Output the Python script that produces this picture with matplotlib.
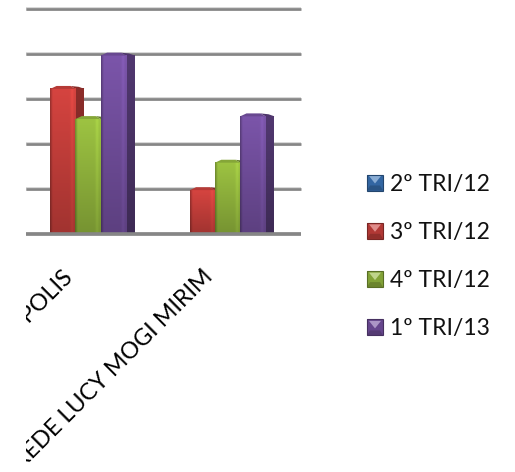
"""Quarterly bars per unit, with bevelled 3D style"""

import matplotlib
matplotlib.use('Agg')
import matplotlib.pyplot as plt
import numpy as np
from matplotlib.colors import to_rgb
from matplotlib.patches import Polygon, Rectangle
from matplotlib.transforms import Bbox

plt.rcParams['font.family'] = ['Lato', 'DejaVu Sans']

categories = ['OPOLIS', 'REDE LUCY MOGI MIRIM']
series = ['2º TRI/12', '3º TRI/12', '4º TRI/12', '1º TRI/13']
tri2_12 = [0, 0]
tri3_12 = [3.29, 1.04]
tri4_12 = [2.62, 1.65]
tri1_13 = [4.03, 2.68]
values = [tri2_12, tri3_12, tri4_12, tri1_13]
colors = ['#3a74b8', '#c9403c', '#94b83e', '#7450a0']
y_ticks = [0, 1, 2, 3, 4, 5]

W, H = 515, 472
fig = plt.figure(figsize=(W / 100, H / 100), dpi=100, facecolor='white')


def px_axes(x0, y0, x1, y1):
    return fig.add_axes([x0 / W, 1 - y1 / H, (x1 - x0) / W, (y1 - y0) / H])


def shade(color, factor):
    rgb = np.array(to_rgb(color))
    if factor <= 1:
        return tuple(rgb * factor)
    return tuple(rgb + (1 - rgb) * (factor - 1))


def front_image(color, nx=50, ny=60):
    # darker toward the base, dark left rim and a thin highlight near the right edge
    v = np.linspace(1.06, 0.80, ny)[:, None]
    u = np.linspace(0, 1, nx)[None, :]
    h = 0.72 + 0.28 * np.clip(u / 0.10, 0, 1)
    h = h + 0.09 * np.exp(-((u - 0.86) / 0.06) ** 2)
    base = np.array(to_rgb(color))[None, None, :]
    img = base * (v * h)[:, :, None]
    return np.clip(img, 0, 1)


def draw_bar(ax, x, value, width, side, cap, color, z):
    if value <= 0:
        return
    top = value - cap
    # side face first so the next series' front covers it
    side_img = np.clip(front_image(color)[:, 25:26, :] * 0.66, 0, 1)
    ax.imshow(side_img, extent=[x + width, x + width + side, 0, top],
              aspect='auto', origin='upper', zorder=z, interpolation='bilinear')
    ax.add_patch(Polygon([(x + width * 0.8, value), (x + width + side * 0.35, value - cap * 0.3),
                          (x + width + side, top), (x + width, top)],
                         closed=True, fc=shade(color, 0.68), ec='none', zorder=z))
    ax.imshow(front_image(color), extent=[x, x + width, 0, top], aspect='auto',
              origin='upper', zorder=z + 0.01, interpolation='bilinear')
    # rounded top edge of the column
    ax.add_patch(Polygon([(x, top), (x + width * 0.25, value),
                          (x + width * 0.8, value), (x + width, top)],
                         closed=True, fc=shade(color, 0.9), ec='none', zorder=z + 0.01))


# one category step is 139.5 px, the first group is centred 49.5 px from the left
ax = px_axes(26, 9, 301, 234)
ax.set_xlim(-49.5 / 139.5, 225.5 / 139.5)
ax.set_ylim(0, 5)
ax.axis('off')

for t in y_ticks:
    ax.axhline(t, color='#d0d0d0', lw=2.6, zorder=1, clip_on=False, solid_capstyle='butt')
    ax.axhline(t, color='#868686', lw=2.6 if t == 0 else 1.9, zorder=6 if t == 0 else 2,
               clip_on=False, solid_capstyle='butt')

bar_w = 25.2 / 139.5
side_w = 9 / 139.5
cap_h = 0.065
for s, vals in enumerate(values):
    for c, v in enumerate(vals):
        draw_bar(ax, c + (s - 2) * bar_w, v, bar_w, side_w, cap_h, colors[s], 3 + s * 0.1)
ax.set_xlim(-49.5 / 139.5, 225.5 / 139.5)
ax.set_ylim(0, 5)

# category labels, cut off at the plot's left edge and the bottom of the figure
label_clip = Bbox.from_extents(26, 0, W, H)
label_pos = [(62, 265), (202, 266)]
for name, (px, py) in zip(categories, label_pos):
    txt = fig.text(px / W, 1 - py / H, name, rotation=45, rotation_mode='anchor',
                   ha='right', va='top', fontsize=16.8, color='black')
    txt.set_clip_box(label_clip)
    txt.set_clip_on(True)

# legend with bevelled square keys
lax = px_axes(0, 0, W, H)
lax.set_xlim(0, W)
lax.set_ylim(H, 0)
lax.axis('off')
lax.patch.set_alpha(0)
for i, (name, color) in enumerate(zip(series, colors)):
    yc = 182.5 + 48.3 * i
    x0, x1, y0, y1 = 367, 383, yc - 8, yc + 8
    lax.add_patch(Rectangle((x0, y0), 16, 16, fc=shade(color, 0.88), ec='none'))
    mx, my = (x0 + x1) / 2, y0 + 9
    lax.add_patch(Polygon([(x0 + 2, y0 + 1.5), (x1 - 2, y0 + 1.5), (mx, my)],
                          fc=shade(color, 1.4), ec='none'))
    lax.add_patch(Polygon([(x0, y1), (x1, y1), (x1 - 3, y0 + 11), (x0 + 3, y0 + 11)],
                          fc=shade(color, 0.72), ec='none'))
    lax.add_patch(Rectangle((x0, y0), 16, 16, fc='none', ec=shade(color, 0.6), lw=0.8))
    lax.text(389.5, yc + 1.5, name, fontsize=16.5, va='center', ha='left', color='#111111')

fig.savefig('out.png', dpi=100)
plt.close(fig)
